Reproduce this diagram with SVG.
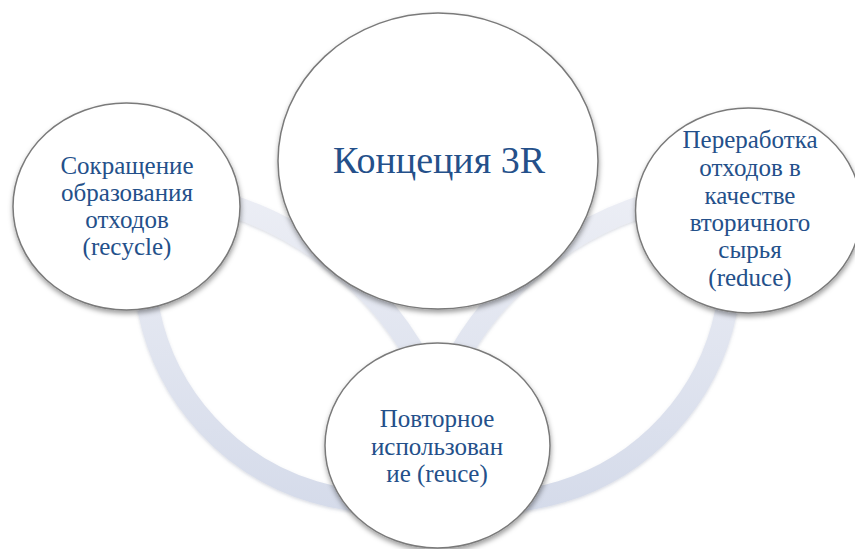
<svg xmlns="http://www.w3.org/2000/svg" width="855" height="549" viewBox="0 0 855 549">
  <defs>
    <filter id="sh" x="-20%" y="-20%" width="140%" height="150%">
      <feDropShadow dx="0.5" dy="3" stdDeviation="2.5" flood-color="#000" flood-opacity="0.38"/>
    </filter>
    <filter id="bsh" x="-20%" y="-20%" width="140%" height="140%">
      <feDropShadow dx="0" dy="1.5" stdDeviation="1.5" flood-color="#6b7390" flood-opacity="0.25"/>
    </filter>
    <linearGradient id="bandg" gradientUnits="userSpaceOnUse" x1="0" y1="190" x2="0" y2="510">
      <stop offset="0" stop-color="#eceef5"/>
      <stop offset="1" stop-color="#d5dbea"/>
    </linearGradient>
  </defs>
  <style>
    .band { fill: none; stroke: url(#bandg); stroke-width: 22; filter: url(#bsh); }
    .node ellipse { fill: #ffffff; stroke: #7a7a7a; stroke-width: 1.5; filter: url(#sh); }
    .node text { fill: #24508a; text-anchor: middle; font-family: 'Times New Roman', 'Liberation Serif', Times, 'Noto Serif', 'Nimbus Roman', FreeSerif, Tinos, 'DejaVu Serif', serif; }
    .s { font-size: 25px; }
    .b { font-size: 38px; }
  </style>
  <rect width="855" height="549" fill="#ffffff"/>
  <g id="connectors">
    <path class="band" d="M152.1,201.1 A239,239 0 0 0 424.5,498.4"/>
    <path class="band" d="M722.9,201.1 A239,239 0 0 1 450.5,498.4"/>
    <path class="band" d="M187.3,195 A330,330 0 0 1 429.1,380.5"/>
    <path class="band" d="M687.7,195 A330,330 0 0 0 445.9,380.5"/>
  </g>
  <g id="node-left" class="node">
    <ellipse cx="126.5" cy="206.5" rx="113.5" ry="103.5"/>
    <text class="s" x="127" y="174">Сокращение</text>
    <text class="s" x="127" y="201">образования</text>
    <text class="s" x="127" y="228">отходов</text>
    <text class="s" x="127" y="255">(recycle)</text>
  </g>
  <g id="node-center" class="node">
    <ellipse cx="438" cy="161" rx="160" ry="148"/>
    <text class="b" x="439" y="173">Концеция 3R</text>
  </g>
  <g id="node-right" class="node">
    <ellipse cx="748.5" cy="210.5" rx="113" ry="102.5"/>
    <text class="s" x="750" y="148">Переработка</text>
    <text class="s" x="750" y="176">отходов в</text>
    <text class="s" x="750" y="204">качестве</text>
    <text class="s" x="750" y="231">вторичного</text>
    <text class="s" x="750" y="258">сырья</text>
    <text class="s" x="750" y="286">(reduce)</text>
  </g>
  <g id="node-bottom" class="node">
    <ellipse cx="437.5" cy="445.5" rx="112.5" ry="102.5"/>
    <text class="s" x="437" y="427">Повторное</text>
    <text class="s" x="437" y="455">использован</text>
    <text class="s" x="437" y="482">ие (reuce)</text>
  </g>
</svg>
